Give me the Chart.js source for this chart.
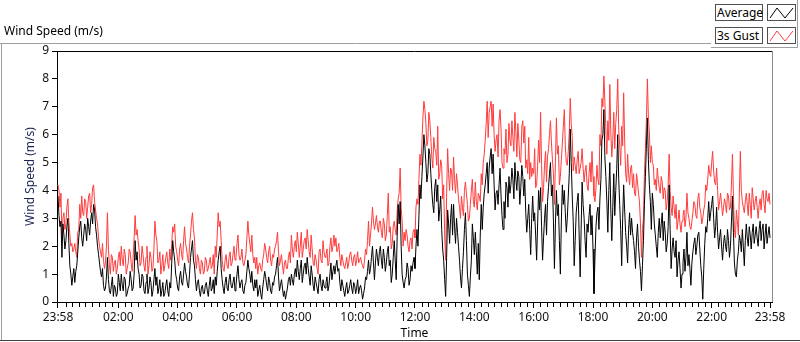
<!DOCTYPE html>
<html>
<head>
<meta charset="utf-8">
<script src="https://cdn.jsdelivr.net/npm/chart.js@4.4.1/dist/chart.umd.min.js"></script>
<style>
  html, body { margin: 0; padding: 0; background: #ffffff; }
  body { width: 800px; height: 342px; position: relative; overflow: hidden; font-family: "Noto Sans", "DejaVu Sans", sans-serif; }
  #wrap { position: absolute; left: 0; top: 0; width: 800px; height: 342px; }
  #topTitle { position: absolute; left: 4px; top: 22px; font-size: 12px; color: #000; white-space: nowrap; }
  #legendPanel { position: absolute; left: 711px; top: 0; width: 86px; height: 47px; border-right: 1px solid #a0a0a0; border-bottom: 1px solid #a0a0a0; background: #fff; }
  .lgText { position: absolute; left: 715px; width: 45px; height: 15px; border: 1px solid #505050; background: #fff; font-size: 12px; line-height: 15px; padding-left: 1px; color: #000; white-space: nowrap; }
  .lgIcon { position: absolute; left: 767px; width: 27px; height: 15px; border: 1px solid #505050; background: #fff; }
  .lgIcon svg { position: absolute; left: 0; top: 0; }
</style>
</head>
<body>
<div id="wrap"><canvas id="c" width="800" height="342"></canvas></div>
<div id="topTitle">Wind Speed (m/s)</div>
<div id="legendPanel"></div>
<div class="lgText" style="top:4px">Average</div>
<div class="lgIcon" style="top:4px"><svg width="27" height="15"><polyline points="2,13 9,3 17,13 25,3" fill="none" stroke="#000" stroke-width="1"/></svg></div>
<div class="lgText" style="top:27px">3s Gust</div>
<div class="lgIcon" style="top:27px"><svg width="27" height="15"><polyline points="2,13 9,3 17,13 25,3" fill="none" stroke="#ff3c3c" stroke-width="1"/></svg></div>
<script>
// ---- Data (one sample every 2 minutes, starting 23:58) ----
const stepMinutes = 2;
const seriesNames = ['Average', '3s Gust'];

const averageSpeed = [
  3.8,3.1,2.7,2.9,1.6,2.8,2.4,1.9,2.2,2.7,3.0,2.1,1.3,1.0,0.6,0.9,1.2,0.7,1.1,1.3,1.8,2.3,2.7,2.9,2.3,2.0,2.4,2.8,2.6,2.2,3.0,2.7,2.4,2.9,3.2,2.8,3.5,3.3,2.7,2.4,
  2.0,1.7,1.4,1.1,0.9,1.2,0.6,0.4,0.5,0.9,1.6,0.8,0.4,0.3,0.6,0.9,0.2,0.6,0.5,0.2,0.3,1.0,0.7,0.4,1.0,0.6,0.4,0.9,0.8,0.2,0.3,0.5,0.6,1.1,0.8,0.4,0.5,1.0,2.2,1.5,
  1.8,1.2,1.0,0.5,0.6,1.0,0.9,0.4,0.3,0.7,1.0,0.3,0.5,0.9,0.7,0.2,0.4,0.8,1.2,0.6,0.9,0.3,0.5,0.8,0.2,0.4,0.7,0.2,0.3,0.6,0.8,0.4,0.2,0.7,0.5,1.4,2.2,1.8,1.5,1.0,
  0.8,0.5,0.4,0.9,1.1,0.7,0.6,1.0,1.4,1.1,0.9,0.6,0.5,1.0,1.6,1.9,2.2,1.5,1.3,0.8,0.4,0.7,0.8,0.4,0.2,0.5,0.6,0.3,0.3,0.6,0.7,0.4,0.2,0.6,0.9,0.4,0.5,0.8,0.3,0.9,
  0.6,1.1,1.5,1.8,2.0,1.2,0.8,0.5,0.3,0.7,0.9,0.5,0.4,0.8,1.0,0.6,0.5,0.7,0.9,0.4,0.6,1.0,1.3,0.8,0.5,0.7,0.8,0.4,0.3,0.6,0.7,1.1,1.5,1.2,1.0,0.7,1.1,0.6,0.4,0.8,
  0.5,0.8,0.2,0.4,0.6,0.3,0.1,0.5,0.8,1.1,0.9,0.6,0.4,0.9,0.7,0.4,0.3,0.7,0.6,0.9,1.0,1.3,1.6,0.9,0.4,0.6,0.8,0.5,0.2,0.4,0.1,0.3,0.5,0.8,0.9,0.6,1.0,0.8,0.6,1.0,
  1.2,0.9,1.5,1.1,0.8,1.2,1.5,0.7,1.0,1.3,1.4,1.0,1.6,1.2,0.9,0.6,1.3,1.0,0.6,0.4,0.9,0.7,0.5,0.3,0.8,1.0,0.6,0.4,0.8,0.6,0.5,0.7,0.9,0.4,0.6,1.0,1.4,0.8,1.1,1.3,
  1.0,1.3,1.5,1.1,1.2,0.7,0.4,0.8,0.6,0.4,0.2,0.5,0.7,0.3,0.4,0.6,0.8,0.5,0.3,0.7,0.6,0.3,0.5,0.8,0.3,0.5,0.6,0.4,0.1,0.3,0.5,0.9,0.8,1.1,1.5,1.0,1.2,1.6,2.0,1.4,
  0.8,1.4,1.9,1.6,1.3,1.8,2.0,1.5,1.2,1.9,1.6,1.1,1.4,1.8,2.0,1.3,1.5,0.7,1.0,1.6,2.2,1.5,0.8,2.4,3.5,2.8,3.6,2.0,1.0,0.7,0.5,0.8,0.9,1.4,1.2,0.6,0.8,1.3,1.1,1.4,
  1.6,1.2,2.0,2.6,2.0,3.1,4.2,3.7,4.5,5.2,6.0,5.6,5.0,4.3,4.6,5.5,5.3,4.6,4.0,3.5,3.2,4.1,4.4,3.6,4.2,2.9,3.3,3.8,2.6,1.9,1.5,0.8,0.2,1.6,3.3,2.8,2.1,3.0,3.5,2.4,
  3.5,2.7,2.1,3.0,2.5,2.0,1.5,0.9,0.5,1.2,1.8,2.6,3.2,2.2,1.0,0.6,0.2,0.9,1.5,2.8,2.3,1.7,2.5,1.8,1.0,2.1,0.8,2.4,3.5,2.6,3.4,3.9,4.2,4.6,5.0,3.9,4.8,5.2,5.5,4.6,
  5.3,4.2,3.3,3.9,4.0,3.5,4.2,4.8,3.8,3.1,2.6,3.6,3.0,4.3,4.1,3.4,4.5,3.9,4.2,4.8,4.4,3.7,5.0,4.4,4.0,4.7,4.5,3.5,4.1,4.9,4.5,3.8,4.4,3.2,2.5,3.0,3.5,2.6,1.7,3.0,
  3.8,2.9,3.2,2.4,1.5,2.8,4.0,3.3,4.1,2.7,1.5,2.3,3.0,3.5,2.4,3.6,4.1,4.6,5.0,3.8,4.2,2.9,1.2,2.8,4.0,3.1,3.5,2.2,1.0,2.9,4.2,3.5,4.0,3.2,2.5,3.0,3.8,4.6,6.2,5.0,
  3.8,2.9,1.3,2.2,3.2,3.6,3.9,2.4,0.9,2.6,4.3,3.5,3.0,2.2,1.6,2.8,2.5,3.1,3.5,2.4,3.1,1.9,0.3,1.6,2.7,3.2,3.4,2.6,3.7,4.4,5.8,6.0,6.9,5.2,4.5,3.6,2.5,4.0,5.0,3.3,
  2.2,3.4,4.6,3.1,4.0,4.8,6.0,4.4,3.5,2.6,1.3,3.0,4.2,3.3,2.5,2.0,1.4,2.6,3.2,2.4,3.0,2.5,2.2,1.8,1.2,2.3,2.8,2.0,1.5,1.1,0.4,1.3,2.2,3.5,4.5,5.6,6.6,5.1,4.2,3.6,
  2.6,3.9,3.5,2.8,2.4,2.0,1.6,2.5,3.0,2.3,2.8,3.2,2.2,2.9,2.5,1.8,2.1,2.7,4.2,2.6,1.2,1.9,2.3,1.8,1.6,2.2,0.9,1.5,1.8,1.2,0.5,1.0,1.4,1.9,1.1,1.6,2.5,1.3,1.7,1.2,
  0.6,1.4,1.8,2.1,2.3,1.7,2.0,2.4,2.5,1.9,1.3,0.9,0.1,1.2,2.1,2.7,2.5,3.0,3.6,2.9,3.2,3.5,3.8,3.0,2.3,2.7,3.4,2.5,1.9,2.3,2.6,2.0,1.5,2.1,2.4,2.0,1.8,2.6,2.2,1.6,
  2.0,2.9,3.8,2.5,1.4,1.0,0.9,1.5,1.8,2.4,2.2,1.8,2.6,2.0,1.3,2.2,2.8,2.3,2.0,2.7,2.4,1.9,2.5,2.8,2.1,2.4,2.7,2.3,2.0,2.6,2.9,2.2,2.6,2.8,1.9,2.4,2.8,2.1,2.4,2.7,2.3
];

const gustSpeed = [
  4.2,4.0,3.4,3.9,2.3,3.0,3.2,2.6,2.8,3.4,3.7,2.9,2.4,2.0,2.1,1.8,1.9,2.1,1.8,1.6,2.5,2.6,3.5,3.0,3.8,3.2,3.1,3.7,3.6,3.0,3.4,3.8,3.9,3.2,3.5,4.1,4.2,3.6,3.3,3.0,
  2.8,2.3,2.0,1.8,1.6,2.1,1.5,1.2,1.4,2.0,3.2,1.9,1.3,1.0,1.7,1.6,1.1,1.4,1.5,1.0,1.2,1.6,1.8,1.3,2.0,1.5,1.3,1.9,1.7,1.0,1.2,1.4,1.9,1.8,1.4,1.1,1.6,2.3,3.1,2.4,
  2.6,2.2,1.9,1.3,1.4,2.0,1.7,1.3,1.1,1.6,2.0,1.0,1.3,1.8,1.6,1.1,1.2,1.9,2.9,2.4,2.2,1.4,1.5,1.8,1.0,1.3,1.7,1.1,1.3,1.6,1.8,1.4,1.2,1.9,1.5,2.1,2.7,2.5,2.8,2.0,
  1.8,1.5,1.3,1.9,2.1,1.7,1.5,2.2,2.7,2.1,1.9,1.6,1.4,2.0,2.4,2.9,3.2,2.6,2.3,1.5,1.2,1.7,1.6,1.2,1.0,1.5,1.4,1.0,1.1,1.6,1.5,1.1,1.2,1.4,1.6,1.2,1.3,1.7,1.0,2.0,
  1.6,2.4,3.2,2.7,2.9,2.2,1.5,1.2,1.1,1.5,1.7,1.3,1.2,1.6,1.8,1.3,1.4,1.7,2.0,1.5,1.6,2.1,2.4,1.7,1.5,1.6,1.9,1.4,1.3,1.5,1.7,2.3,2.9,2.4,2.1,1.8,2.4,1.7,1.4,1.6,
  1.2,1.6,1.0,1.3,1.4,1.2,1.1,1.5,1.7,2.1,1.9,1.6,1.4,1.8,2.0,1.5,1.3,1.7,1.6,1.9,2.0,2.2,2.5,1.8,1.3,1.5,1.7,1.3,1.0,1.4,1.5,1.2,1.2,1.6,1.8,1.4,2.4,1.9,1.6,2.0,
  2.2,1.8,2.5,2.1,1.6,2.0,2.5,1.6,1.9,2.2,2.3,1.9,2.6,2.2,1.8,1.6,2.4,1.9,1.4,1.3,1.7,1.5,1.2,1.0,1.8,1.9,1.5,1.4,2.2,1.8,1.6,1.7,1.9,1.3,1.4,2.0,2.3,1.8,2.0,2.4,
  2.0,2.3,1.8,1.9,2.1,1.6,1.3,1.7,1.5,1.3,1.2,1.4,1.6,1.2,1.4,1.7,1.8,1.5,1.3,1.6,1.7,1.3,1.5,1.8,1.4,1.5,1.6,1.4,1.3,1.2,1.5,1.9,1.7,2.2,2.9,2.0,2.4,2.8,3.4,2.9,
  2.6,2.8,3.1,2.7,2.5,2.9,2.9,2.5,2.3,3.0,2.8,2.2,2.4,3.1,3.9,2.5,2.7,1.9,2.1,2.7,2.9,2.6,2.4,3.3,3.7,3.9,4.8,3.4,2.9,2.0,2.5,2.2,2.6,2.4,2.0,1.8,2.2,2.3,1.9,2.5,
  2.6,2.3,3.4,3.7,3.5,4.4,5.3,4.9,5.7,6.6,7.2,6.9,6.4,5.6,5.8,6.8,6.5,5.9,5.2,4.8,5.9,5.5,5.4,4.9,6.3,4.4,4.6,5.1,4.9,3.7,4.2,2.4,1.5,3.9,5.5,4.6,4.0,4.8,4.7,4.0,
  5.2,4.4,3.9,4.6,4.2,3.7,3.4,3.0,3.8,3.4,3.1,4.0,4.3,3.9,3.5,2.9,3.0,3.5,4.0,4.4,3.6,3.4,4.3,3.6,3.3,3.9,3.8,3.6,4.6,4.2,5.0,5.3,5.8,6.4,7.2,5.9,6.8,7.0,7.2,6.3,
  7.1,6.0,5.4,5.8,6.0,5.2,6.5,6.9,6.2,5.0,4.8,5.5,5.3,6.2,5.0,5.3,6.4,5.8,5.6,6.5,5.9,5.4,6.8,6.1,5.2,6.4,5.8,5.1,5.0,6.3,6.5,5.7,6.3,4.8,5.1,4.6,5.9,4.4,5.0,4.5,
  4.8,4.6,5.5,4.1,4.2,4.9,5.8,5.0,6.8,4.9,3.6,4.1,4.9,5.4,4.3,5.2,5.5,6.0,6.5,5.7,5.1,4.6,3.5,5.0,6.6,5.3,5.6,4.2,4.5,5.1,5.7,6.3,6.9,5.6,5.0,4.9,5.4,6.1,7.3,6.4,
  5.9,4.7,5.2,4.9,4.6,5.1,5.4,4.6,4.8,5.0,5.5,4.8,4.3,4.7,4.9,4.2,4.0,4.6,5.0,4.3,5.4,4.5,3.8,3.6,4.1,4.9,4.4,4.2,6.0,5.6,7.3,7.0,8.1,7.2,6.2,5.3,6.5,5.8,7.8,6.1,
  5.2,5.8,6.8,5.5,6.4,6.9,8.0,6.2,5.6,4.9,6.3,5.6,7.5,5.8,4.6,4.3,5.3,4.6,4.2,4.8,4.9,4.1,4.6,3.9,3.8,4.6,4.3,3.9,3.6,2.8,1.6,2.6,3.0,4.6,5.5,6.5,8.0,6.6,6.1,5.0,
  5.6,5.0,4.9,4.2,4.4,4.0,4.8,4.4,4.1,3.9,4.5,4.3,3.7,4.1,4.0,3.3,3.6,4.2,5.3,4.0,3.4,3.1,3.8,3.4,3.0,3.5,2.6,2.9,3.3,2.8,2.5,2.9,3.1,3.3,2.7,3.0,3.9,3.2,3.0,2.7,
  2.6,2.9,3.2,3.6,3.5,3.1,3.0,3.7,3.9,3.4,3.2,2.8,3.0,3.3,3.5,4.2,4.0,4.4,4.9,4.6,4.5,5.0,5.4,4.7,4.3,4.2,4.8,4.0,3.3,3.6,3.9,3.5,3.1,3.4,3.7,3.5,3.2,3.9,3.8,3.3,
  3.4,4.2,5.3,3.8,2.6,2.3,3.3,2.9,2.4,3.9,5.4,4.0,3.6,3.4,3.2,3.6,3.9,3.5,3.1,3.9,3.5,3.0,4.1,3.7,3.3,3.6,3.8,3.4,3.0,3.5,3.7,3.3,3.9,4.0,3.5,3.2,4.0,3.7,3.6,3.9,3.5
];

// x ticks: minutes since the 23:58 start
const xTickValues = [0, 122, 242, 362, 482, 602, 722, 842, 962, 1082, 1202, 1322, 1440];
const xTickLabels = ['23:58', '02:00', '04:00', '06:00', '08:00', '10:00', '12:00', '14:00', '16:00', '18:00', '20:00', '22:00', '23:58'];
const yTickValues = [0, 1, 2, 3, 4, 5, 6, 7, 8, 9];
const minorPerMajor = 9;

const toPoints = arr => arr.map((v, i) => ({ x: i * stepMinutes, y: v }));

const FONT = '"Noto Sans", "DejaVu Sans", sans-serif';

const framePlugin = {
  id: 'framePlugin',
  beforeDraw(chart) {
    const ctx = chart.ctx;
    ctx.save();
    ctx.fillStyle = '#ffffff';
    ctx.fillRect(0, 0, chart.width, chart.height);
    ctx.strokeStyle = '#a0a0a0';
    ctx.lineWidth = 1;
    ctx.beginPath();
    ctx.moveTo(0, 43.5); ctx.lineTo(711, 43.5);
    ctx.moveTo(1.5, 43); ctx.lineTo(1.5, 340);
    ctx.stroke();
    ctx.strokeStyle = '#404040';
    ctx.beginPath();
    ctx.moveTo(0, 340.5); ctx.lineTo(800, 340.5);
    ctx.stroke();
    ctx.restore();
  },
  afterDraw(chart) {
    const ctx = chart.ctx;
    const a = chart.chartArea;
    const xs = chart.scales.x;
    ctx.save();
    ctx.lineWidth = 1;
    ctx.strokeStyle = '#000';
    ctx.beginPath();
    ctx.moveTo(a.left, Math.round(a.top) + 0.5);
    ctx.lineTo(a.right, Math.round(a.top) + 0.5);
    ctx.stroke();
    ctx.strokeStyle = '#8c8c8c';
    ctx.beginPath();
    ctx.moveTo(Math.round(a.right) + 0.5, a.top);
    ctx.lineTo(Math.round(a.right) + 0.5, a.bottom);
    ctx.stroke();
    // minor ticks between major ticks
    ctx.strokeStyle = '#000';
    ctx.beginPath();
    const y0 = Math.round(a.bottom) + 1;
    for (let k = 1; k < xTickValues.length - 1; k++) {
      const from = xTickValues[k - 1] === 0 ? xTickValues[k] - 120 : xTickValues[k - 1];
      const to = xTickValues[k];
      for (let m = 1; m < minorPerMajor; m++) {
        const px = Math.round(xs.getPixelForValue(from + (to - from) * m / minorPerMajor)) + 0.5;
        ctx.moveTo(px, y0); ctx.lineTo(px, y0 + 4);
      }
    }
    const last = xTickValues[xTickValues.length - 2];
    for (let m = 1; m < minorPerMajor; m++) {
      const px = Math.round(xs.getPixelForValue(last + 120 * m / minorPerMajor)) + 0.5;
      ctx.moveTo(px, y0); ctx.lineTo(px, y0 + 4);
    }
    ctx.stroke();
    ctx.restore();
  }
};

new Chart(document.getElementById('c'), {
  type: 'line',
  data: {
    datasets: [
      { label: seriesNames[0], data: toPoints(averageSpeed), borderColor: '#000000', borderWidth: 1, pointRadius: 0, tension: 0, fill: false },
      { label: seriesNames[1], data: toPoints(gustSpeed), borderColor: '#ff3c3c', borderWidth: 1, pointRadius: 0, tension: 0, fill: false }
    ]
  },
  options: {
    responsive: false,
    animation: false,
    events: [],
    layout: { padding: { left: 0, top: 51, right: 28, bottom: 0 } },
    plugins: { legend: { display: false }, tooltip: { enabled: false } },
    scales: {
      x: {
        type: 'linear',
        min: -2,
        max: 1444,
        afterFit: s => { s.height = 40; },
        afterBuildTicks: s => { s.ticks = xTickValues.map(v => ({ value: v })); },
        grid: { drawOnChartArea: false, drawTicks: true, tickLength: 6, tickColor: '#000', tickWidth: 1 },
        border: { display: true, color: '#000', width: 1 },
        ticks: {
          autoSkip: false, maxRotation: 0, padding: 2, color: '#111',
          font: { family: FONT, size: 12 },
          callback: (v, i) => xTickLabels[i]
        },
        title: { display: true, text: 'Time', color: '#000', font: { family: FONT, size: 12 }, padding: { top: 0, bottom: 1 } }
      },
      y: {
        min: 0,
        max: 9,
        afterFit: s => { s.width = 57; },
        afterBuildTicks: s => { s.ticks = yTickValues.map(v => ({ value: v })); },
        grid: { drawOnChartArea: false, drawTicks: true, tickLength: 5, tickColor: '#000' },
        border: { display: true, color: '#000', width: 1 },
        ticks: { padding: 3, color: '#111', font: { family: FONT, size: 12 } },
        title: { display: true, text: 'Wind Speed (m/s)', color: '#1c2456', font: { family: FONT, size: 12 }, padding: { top: 23, bottom: 0 } }
      }
    }
  },
  plugins: [framePlugin]
});
</script>
</body>
</html>
